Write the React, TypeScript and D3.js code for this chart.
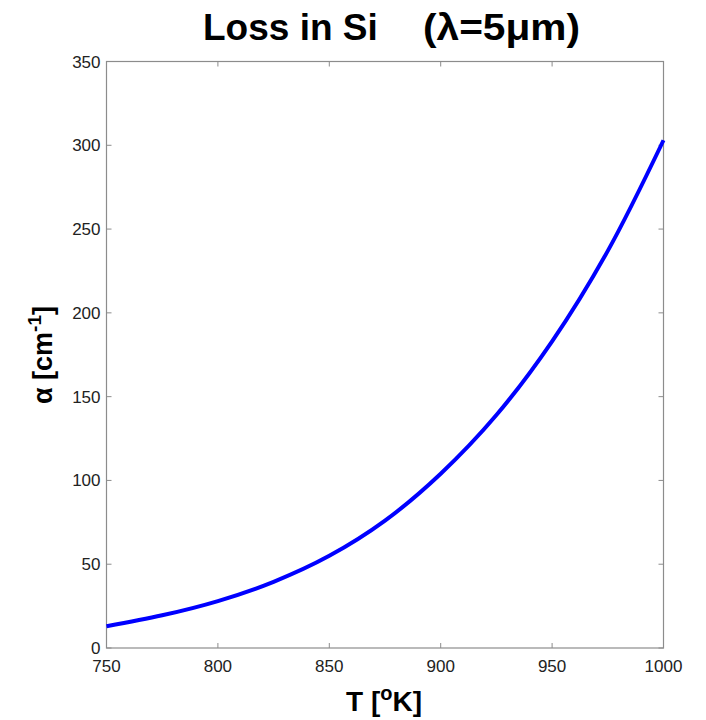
import React from "react";
import * as d3 from "d3";

const temps = [750, 775, 800, 825, 850, 875, 900, 925, 950, 975, 1000];
const alphaVals = [13, 19.5, 28, 39.5, 55, 76, 104, 139, 183, 237, 303];
const xTicks = [750, 800, 850, 900, 950, 1000];
const yTicks = [0, 50, 100, 150, 200, 250, 300, 350];

export default function App() {
  const W = 706, H = 720;
  const left = 106.5, right = 663.5, top = 61.5, bottom = 648;
  const x = d3.scaleLinear().domain([750, 1000]).range([left, right]);
  const y = d3.scaleLinear().domain([0, 350]).range([bottom, top]);
  const pts = temps.map((t, i) => [t, alphaVals[i]] as [number, number]);
  const line = d3.line<[number, number]>().x(d => x(d[0])).y(d => y(d[1])).curve(d3.curveCatmullRom);
  const axisColor = "#8c8c8c";
  const tl = 5;
  const font = "Liberation Sans, Arial, sans-serif";
  return (
    <svg width={W} height={H} style={{ position: "absolute", left: 0, top: 0, background: "#fff" }} fontFamily={font}>
      <rect x={0} y={0} width={W} height={H} fill="#fff" />
      <text x={203} y={39.5} fontSize={37} fontWeight="bold" fill="#000">Loss in Si</text>
      <text x={423} y={39.5} fontSize={37} fontWeight="bold" fill="#000" textLength={157} lengthAdjust="spacingAndGlyphs">(λ=5μm)</text>
      <rect x={left} y={top} width={right - left} height={bottom - top} fill="none" stroke={axisColor} strokeWidth={1.2} />
      {xTicks.map(t => (
        <g key={"x" + t}>
          <line x1={x(t)} x2={x(t)} y1={bottom} y2={bottom - tl} stroke={axisColor} />
          <line x1={x(t)} x2={x(t)} y1={top} y2={top + tl} stroke={axisColor} />
          <text x={x(t)} y={672} textAnchor="middle" fontSize={17} fill="#222">{t}</text>
        </g>
      ))}
      {yTicks.map(t => (
        <g key={"y" + t}>
          <line x1={left} x2={left + tl} y1={y(t)} y2={y(t)} stroke={axisColor} />
          <line x1={right} x2={right - tl} y1={y(t)} y2={y(t)} stroke={axisColor} />
          <text x={left - 6} y={y(t) + 6} textAnchor="end" fontSize={17} fill="#222">{t}</text>
        </g>
      ))}
      <path d={line(pts) || ""} fill="none" stroke="#0000ff" strokeWidth={4} />
      <text x={384} y={711} textAnchor="middle" fontSize={28} fontWeight="bold" fill="#000">
        T [<tspan dy={-11} fontSize={20}>o</tspan><tspan dy={11}>K]</tspan>
      </text>
      <text transform={`translate(52,${355}) rotate(-90)`} textAnchor="middle" fontSize={27} fontWeight="bold" fill="#000">
        α [cm<tspan dy={-11} fontSize={19}>-1</tspan><tspan dy={11}>]</tspan>
      </text>
    </svg>
  );
}
